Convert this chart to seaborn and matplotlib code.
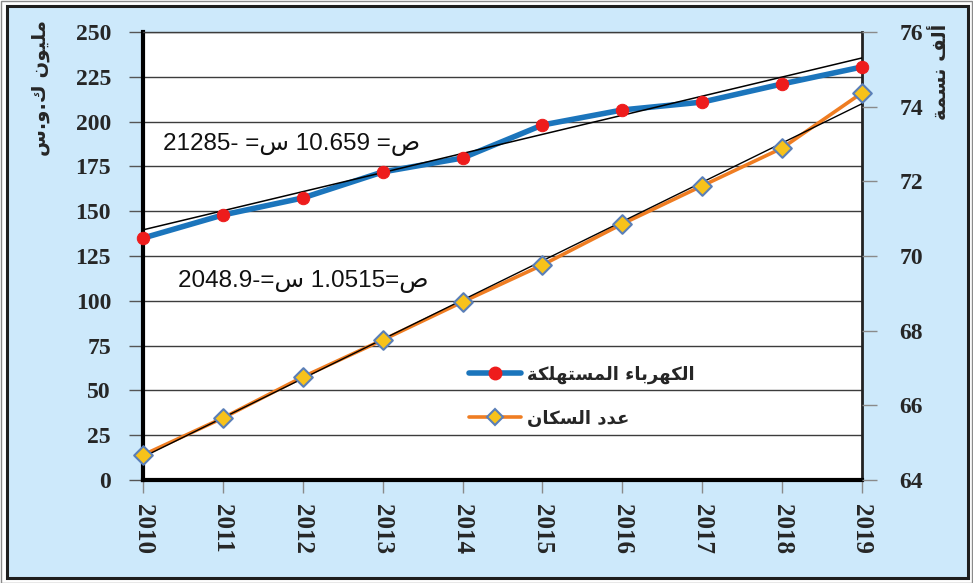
import matplotlib
matplotlib.use("Agg")
import matplotlib.pyplot as plt
import numpy as np
import pandas as pd
import seaborn as sns
from matplotlib.lines import Line2D
from matplotlib.patches import Rectangle

# ---- data -------------------------------------------------------------
years = [2010, 2011, 2012, 2013, 2014, 2015, 2016, 2017, 2018, 2019]
electricity = [135.0, 147.9, 157.4, 171.9, 179.7, 198.1, 206.5, 210.9, 221.0, 230.5]   # million kWh
population = [64.67, 65.66, 66.76, 67.75, 68.77, 69.76, 70.86, 71.88, 72.89, 74.37]     # thousand people

left_ticks = [0, 25, 50, 75, 100, 125, 150, 175, 200, 225, 250]
right_ticks = [64, 66, 68, 70, 72, 74, 76]

# linear trend coefficients (y = slope * year + intercept)
ELEC_SLOPE, ELEC_INTERCEPT = 10.659, -21285
POP_SLOPE, POP_INTERCEPT = 1.0515, -2048.9


# ---- Arabic text: contextual glyph forms, laid out in visual order ------
def visual(codes):
    return "".join(chr(c) if isinstance(c, int) else c for c in codes)[::-1]

LABEL_ELEC = visual([0xFE8D, 0xFEDF, 0xFEDC, 0xFEEC, 0xFEAE, 0xFE91, 0xFE8E, 0xFE80, " ",
                     0xFE8D, 0xFEDF, 0xFEE4, 0xFEB4, 0xFE98, 0xFEEC, 0xFEE0, 0xFEDC, 0xFE94])
LABEL_POP = visual([0xFECB, 0xFEAA, 0xFEA9, " ",
                    0xFE8D, 0xFEDF, 0xFEB4, 0xFEDC, 0xFE8E, 0xFEE5])
YLABEL_LEFT = visual([0xFEE3, 0xFEE0, 0xFEF4, 0xFEEE, 0xFEE5, " ",
                      0xFED9, ".", 0xFEED, ".", 0xFEB1])
YLABEL_RIGHT = visual([0xFE83, 0xFEDF, 0xFED2, " ", 0xFEE7, 0xFEB4, 0xFEE4, 0xFE94])

SIN, SAD = "\u0633", "\u0635"
EQ_ELEC = f"{-ELEC_INTERCEPT:g}- ={SIN} {ELEC_SLOPE} ={SAD}"
EQ_POP = f"{-POP_INTERCEPT:g}-={SIN} {POP_SLOPE}={SAD}"

# ---- style --------------------------------------------------------------
sns.set_theme(style="white")
plt.rcParams["font.family"] = ["Liberation Serif", "DejaVu Sans"]

BLUE = "#1b75bc"
RED = "#ee1c1c"
ORANGE = "#ef7d22"
GOLD = "#f7c21b"
DIAMOND_EDGE = "#5a7fb8"
BG = "#cde9fb"
GRID = "#3c3c3c"

df = pd.DataFrame({"year": years, "elec": electricity, "pop": population})
df["elec_trend"] = ELEC_SLOPE * df["year"] + ELEC_INTERCEPT
df["pop_trend"] = POP_SLOPE * df["year"] + POP_INTERCEPT

W, H = 973, 583
fig = plt.figure(figsize=(W / 100, H / 100), dpi=100)
fig.patch.set_facecolor("white")

# outer frame and light-blue chart area
fig.patches.append(Rectangle((0.5 / W, 0.5 / H), (W - 1.5) / W, (H - 1.5) / H,
                             transform=fig.transFigure, facecolor="white",
                             edgecolor="#8a8a8a", lw=1, zorder=-3))
fig.patches.append(Rectangle((7 / W, 1 - 578 / H), (968 - 7) / W, (578 - 6) / H,
                             transform=fig.transFigure, facecolor=BG,
                             edgecolor="#1e1e1e", lw=2.2, zorder=-2))

ax = fig.add_axes([143 / W, 1 - 480 / H, (862 - 143) / W, (480 - 32) / H])
ax.set_facecolor("white")

# electricity (left axis)
sns.lineplot(data=df, x="year", y="elec", ax=ax, color=BLUE, lw=4, zorder=2,
             clip_on=False, legend=False)
sns.lineplot(data=df, x="year", y="elec_trend", ax=ax, color="black", lw=1.1,
             zorder=3, legend=False)
sns.scatterplot(data=df, x="year", y="elec", ax=ax, color=RED, edgecolor=RED,
                s=80, zorder=4, clip_on=False, legend=False)

ax.set_xlim(2010, 2019)
ax.set_ylim(0, 250)
ax.set_yticks(left_ticks)
ax.set_xticks(years)
ax.set_xticklabels([str(y) for y in years], rotation=-90, fontsize=18,
                   fontweight="bold", family="Liberation Serif")
ax.set_yticklabels([str(t) for t in left_ticks], fontsize=17, fontweight="bold",
                   family="Liberation Serif")
ax.tick_params(axis="x", direction="out", length=9, width=1, color="#8a8a8a",
               pad=8, bottom=True)
ax.tick_params(axis="y", direction="out", length=10, width=1, color="#555555",
               pad=13, left=True)
ax.set_xlabel("")
ax.set_ylabel("")
ax.yaxis.grid(True, color=GRID, lw=1)
ax.xaxis.grid(False)
for side, lw, col in [("left", 3, "black"), ("bottom", 3, "black"),
                      ("top", 1, GRID), ("right", 2, "#222222")]:
    ax.spines[side].set_visible(True)
    ax.spines[side].set_linewidth(lw)
    ax.spines[side].set_color(col)

# population (right axis)
ax2 = ax.twinx()
sns.lineplot(data=df, x="year", y="pop", ax=ax2, color=ORANGE, lw=2.6, zorder=2,
             clip_on=False, legend=False)
sns.lineplot(data=df, x="year", y="pop_trend", ax=ax2, color="black", lw=1.0,
             zorder=3, legend=False)
sns.scatterplot(data=df, x="year", y="pop", ax=ax2, marker="D", color=GOLD,
                edgecolor=DIAMOND_EDGE, linewidth=1.5, s=90, zorder=4,
                clip_on=False, legend=False)
ax2.set_ylim(64, 76)
ax2.set_yticks(right_ticks)
ax2.set_yticklabels([str(t) for t in right_ticks], fontsize=17, fontweight="bold",
                    family="Liberation Serif")
ax2.tick_params(axis="y", direction="out", length=11, width=1, color="#8a8a8a",
                pad=16, right=True)
ax2.set_ylabel("")
for side in ["left", "bottom", "top", "right"]:
    ax2.spines[side].set_visible(False)

# trend equations
ax.text(2011.86, 187, EQ_ELEC, ha="center", va="center", fontsize=17.5,
        family=["Liberation Sans", "DejaVu Sans"], color="#111111", zorder=6)
ax.text(2012.0, 110.5, EQ_POP, ha="center", va="center", fontsize=17.5,
        family=["Liberation Sans", "DejaVu Sans"], color="#111111", zorder=6)

# axis titles
fig.text(40 / W, 1 - 88 / H, YLABEL_LEFT, rotation=90, ha="center", va="center",
         fontsize=14, fontweight="bold", family=["DejaVu Sans"])
fig.text(941 / W, 1 - 72 / H, YLABEL_RIGHT, rotation=90, ha="center", va="center",
         fontsize=14, fontweight="bold", family=["DejaVu Sans"])

# legend
handles = [
    Line2D([], [], color=BLUE, lw=4, marker="o", markersize=9,
           markerfacecolor=RED, markeredgecolor=RED),
    Line2D([], [], color=ORANGE, lw=2.6, marker="D", markersize=8.5,
           markerfacecolor=GOLD, markeredgecolor=DIAMOND_EDGE, markeredgewidth=1.5),
]
ax2.legend(handles, [LABEL_ELEC, LABEL_POP], loc="center left",
           bbox_to_anchor=(460 / W, 1 - 396.5 / H), bbox_transform=fig.transFigure,
           frameon=False, borderpad=0, handlelength=2.9, handletextpad=0.3,
           labelspacing=1.45, numpoints=1,
           prop={"family": ["DejaVu Sans"], "weight": "bold", "size": 13})

fig.savefig("out.png", dpi=100, facecolor=fig.get_facecolor())
